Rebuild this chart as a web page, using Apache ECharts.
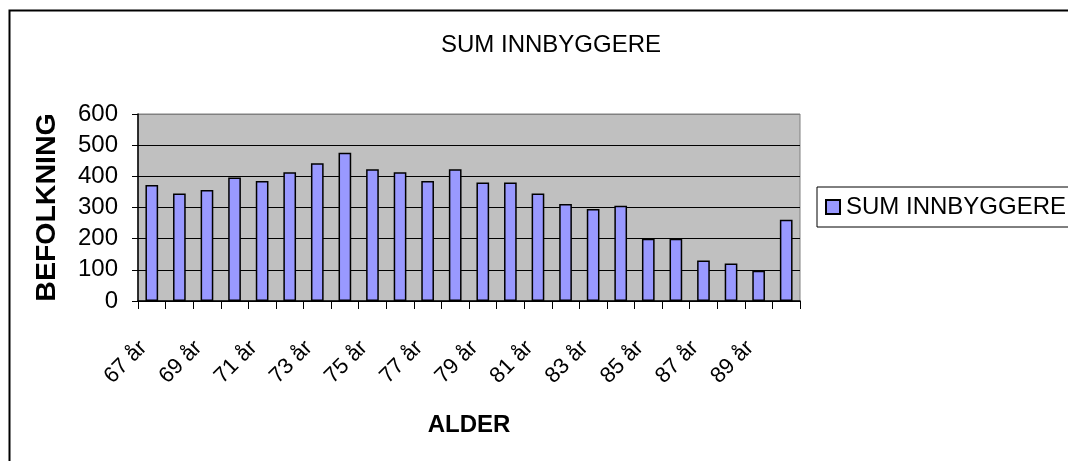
<!DOCTYPE html>
<html>
<head>
<meta charset="utf-8">
<script src="https://cdn.jsdelivr.net/npm/echarts@6/dist/echarts.min.js"></script>
<style>
  html, body { margin: 0; padding: 0; background: #fff; }
  #chart { width: 1068px; height: 461px; }
</style>
</head>
<body>
<div id="chart"></div>
<script>
  // categories and values
  const ages = ["67 år", "68 år", "69 år", "70 år", "71 år", "72 år", "73 år", "74 år",
                "75 år", "76 år", "77 år", "78 år", "79 år", "80 år", "81 år", "82 år",
                "83 år", "84 år", "85 år", "86 år", "87 år", "88 år", "89 år", "90 år"];
  const innbyggere = [372, 345, 356, 396, 385, 413, 442, 476, 423, 413, 385, 423,
                      380, 380, 345, 311, 295, 306, 200, 200, 130, 120, 97, 261];
  const yTicks = { min: 0, max: 600, step: 100 };

  const FONT = "'Liberation Sans', Arial, sans-serif";
  const chart = echarts.init(document.getElementById("chart"), null, { renderer: "canvas" });

  chart.setOption({
    animation: false,
    backgroundColor: "#fff",
    textStyle: { fontFamily: FONT, color: "#000" },
    title: {
      text: "SUM INNBYGGERE",
      left: 546, top: 28, textAlign: "center",
      textStyle: { fontFamily: FONT, fontSize: 24, fontWeight: "normal", color: "#000" }
    },
    legend: {
      left: 817, top: 187,
      padding: [8, 10, 8, 8],
      itemWidth: 14, itemHeight: 14, itemGap: 0,
      icon: "rect",
      borderColor: "#000", borderWidth: 1,
      backgroundColor: "#fff",
      textStyle: { fontFamily: FONT, fontSize: 24, color: "#000", padding: [0, 0, 0, 1] },
      data: ["SUM INNBYGGERE"]
    },
    grid: {
      left: 138, right: 268, top: 114, bottom: 160,
      show: true, backgroundColor: "#c0c0c0", borderColor: "#808080", borderWidth: 1
    },
    xAxis: {
      type: "category",
      data: ages,
      name: "ALDER",
      nameLocation: "middle",
      nameGap: 112,
      nameTextStyle: { fontFamily: FONT, fontSize: 24, fontWeight: "bold", color: "#000" },
      axisLine: { lineStyle: { color: "#000", width: 1.5 } },
      axisTick: { show: true, length: 8, interval: 0, lineStyle: { color: "#000" } },
      axisLabel: {
        interval: 1, rotate: 45, margin: 35, padding: [0, 12, 0, 0],
        fontSize: 22, color: "#000", fontFamily: FONT
      },
      splitLine: { show: false }
    },
    yAxis: {
      type: "value",
      min: yTicks.min, max: yTicks.max, interval: yTicks.step,
      name: "BEFOLKNING",
      nameLocation: "middle",
      nameGap: 76,
      nameRotate: 90,
      nameTextStyle: { fontFamily: FONT, fontSize: 28.5, fontWeight: "bold", color: "#000" },
      axisLine: { show: true, lineStyle: { color: "#000", width: 1.5 } },
      axisTick: { show: true, length: 6, inside: false, lineStyle: { color: "#000" } },
      axisLabel: { margin: 20, fontSize: 24, color: "#000", fontFamily: FONT },
      splitLine: {
        show: true,
        lineStyle: { color: ["#000", "#000", "#000", "#000", "#000", "#000", "#808080"], width: 1 }
      }
    },
    series: [{
      name: "SUM INNBYGGERE",
      type: "bar",
      data: innbyggere,
      barWidth: "46%",
      itemStyle: { color: "#9999ff", borderColor: "#000", borderWidth: 1.5 }
    }],
    graphic: [{
      type: "rect",
      silent: true,
      shape: { x: 9.5, y: 10.5, width: 1200, height: 600 },
      style: { fill: null, stroke: "#000", lineWidth: 2 }
    }]
  });
</script>
</body>
</html>
